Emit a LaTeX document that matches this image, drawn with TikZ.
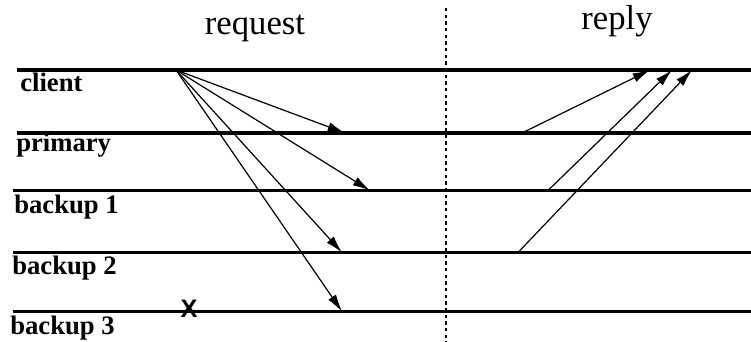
\documentclass[tikz,border=0pt]{standalone}
\usepackage{fontspec}
\setmainfont{Liberation Serif}
\newfontfamily\crossfont{Liberation Sans Bold}
\usetikzlibrary{arrows.meta}

\begin{document}
\begin{tikzpicture}[x=0.75pt, y=-0.75pt,
  timeline/.style={line width=2.4pt},
  msg/.style={-{Latex[length=13pt,width=7pt]}, line width=0.9pt},
  procname/.style={font=\fontsize{20}{24}\selectfont\bfseries, anchor=base west, inner sep=0pt},
  phase/.style={font=\fontsize{26}{30}\selectfont, anchor=base, inner sep=0pt}]
\useasboundingbox (0,0) rectangle (751,342);

\node[phase] (request) at (255,35) {request};
\node[phase] (reply) at (617,30) {reply};

\node[procname] (client) at (20,92) {client};
\node[procname] (primary) at (16,152) {primary};
\node[procname] (backup1) at (14,214) {backup 1};
\node[procname] (backup2) at (12,275) {backup 2};
\node[procname] (backup3) at (10,335) {backup 3};

% time lines
\draw[timeline] (17,70) -- (751,70);
\draw[timeline] (17,133) -- (751,133);
\draw[timeline] (13,190.5) -- (751,190.5);
\draw[timeline] (13,252.5) -- (751,252.5);
\draw[timeline] (13,311.5) -- (751,311.5);

\draw[line width=0.9pt, dash pattern=on 2.5pt off 2.5pt] (446,8) -- (446,342);

% request from the client
\coordinate (send) at (176,70);
\coordinate (req_0) at (345,133);
\coordinate (req_1) at (370,190.5);
\coordinate (req_2) at (342,252.5);
\coordinate (req_3) at (342,311.5);
\draw[msg] (send) -- (req_0);
\draw[msg] (send) -- (req_1);
\draw[msg] (send) -- (req_2);
\draw[msg] (send) -- (req_3);

\node[font=\crossfont\fontsize{19}{22}\selectfont, inner sep=0pt] (crash) at (189,309) {X};

% replies to the client
\coordinate (rep_0) at (522,133);
\coordinate (rep_1) at (548,190.5);
\coordinate (rep_2) at (518,252.5);
\coordinate (got_0) at (650,70);
\coordinate (got_1) at (672,70);
\coordinate (got_2) at (692,70);
\draw[msg] (rep_0) -- (got_0);
\draw[msg] (rep_1) -- (got_1);
\draw[msg] (rep_2) -- (got_2);

\end{tikzpicture}
\end{document}
